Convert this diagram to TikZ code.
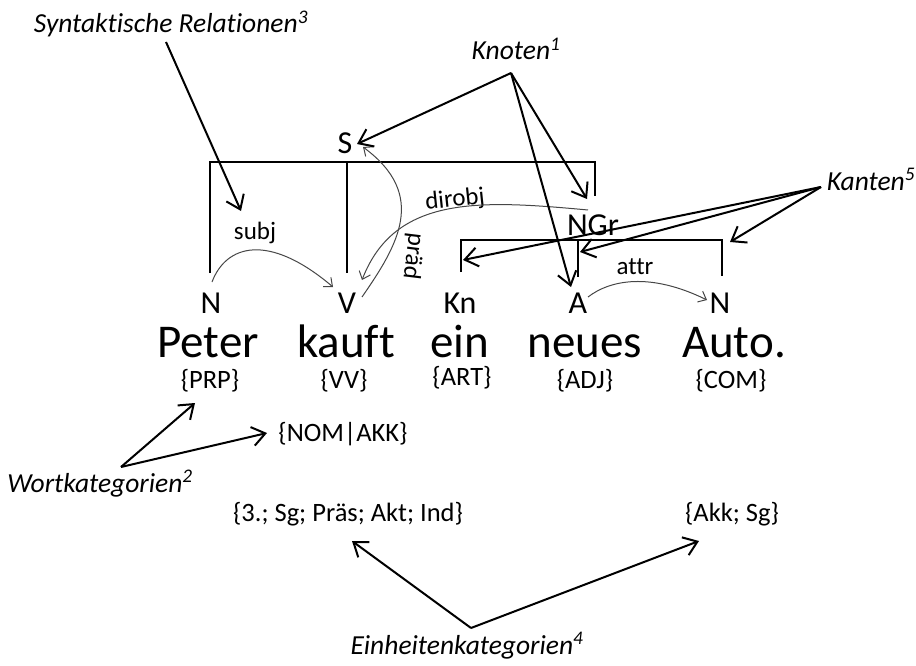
\documentclass[tikz,border=0pt]{standalone}
\usepackage{fontspec}
\setmainfont{Carlito}[Ligatures=NoCommon]
\usetikzlibrary{arrows.meta}
\definecolor{curvecol}{RGB}{70,70,70}
\tikzset{
  lbl/.style={font=\fontsize{32}{38}\selectfont, inner sep=0pt, anchor=base},
  word/.style={font=\fontsize{47}{54}\selectfont, inner sep=0pt, anchor=base},
  cat/.style={font=\fontsize{26.5}{30}\selectfont, inner sep=0pt, anchor=base},
  rel/.style={font=\fontsize{25}{30}\selectfont, inner sep=0pt},
  note/.style={font=\itshape\fontsize{27.5}{32}\selectfont, inner sep=0pt, anchor=base},
  bracket/.style={line width=2pt},
  callout/.style={line width=2pt, -{Straight Barb[length=13pt,width=19pt,line width=2pt]}},
  depcurve/.style={line width=1pt, draw=curvecol, -{Straight Barb[length=7pt,width=12pt,line width=1pt]}},
}
\begin{document}
\begin{tikzpicture}[x=1pt,y=-1pt]
\useasboundingbox (0,0) rectangle (916,666);
% callout labels
\node[note] (synrel) at (171,33) {Syntaktische Relationen\textsuperscript{3}};
\node[note] (knoten) at (516,60) {Knoten\textsuperscript{1}};
\node[note] (kanten) at (871,190) {Kanten\textsuperscript{5}};
\node[note] (wortkat) at (100,492) {Wortkategorien\textsuperscript{2}};
\node[note] (einhkat) at (467,654) {Einheitenkategorien\textsuperscript{4}};
% tree labels
\node[lbl] (S) at (345,154) {S};
\node[lbl] (NGr) at (593,235) {NGr};
\node[lbl] (nN1) at (211,313) {N};
\node[lbl] (nV) at (347,313) {V};
\node[lbl] (nKn) at (460,313) {Kn};
\node[lbl] (nA) at (578,313) {A};
\node[lbl] (nN2) at (720,313) {N};
% words
\node[word] (wPeter) at (208,357) {Peter};
\node[word] (wkauft) at (346,357) {kauft};
\node[word] (wein) at (460,357) {ein};
\node[word] (wneues) at (585,357) {neues};
\node[word] (wAuto) at (734,357) {Auto.};
% categories
\node[cat] (cPRP) at (210,388) {\{PRP\}};
\node[cat] (cVV) at (344,388) {\{VV\}};
\node[cat] (cART) at (462,385) {\{ART\}};
\node[cat] (cADJ) at (585,388) {\{ADJ\}};
\node[cat] (cCOM) at (731,388) {\{COM\}};
\node[cat] (cNOM) at (343,441) {\{NOM|AKK\}};
\node[cat] (cVerb) at (348,521) {\{3.; Sg; Präs; Akt; Ind\}};
\node[cat] (cAkk) at (732,521) {\{Akk; Sg\}};
% relation labels
\node[rel] (subj) at (255,233) {subj};
\node[rel] (attr) at (635,267) {attr};
\node[rel, rotate=6] (dirobj) at (455,200) {dirobj};
\node[rel, rotate=-97] (praed) at (413,256) {präd};
% bracket coordinates
\coordinate (sL) at (210,273); \coordinate (sLt) at (210,162);
\coordinate (sM) at (347,273); \coordinate (sMt) at (347,162);
\coordinate (sR) at (595,196); \coordinate (sRt) at (595,162);
\coordinate (gL) at (461,272); \coordinate (gLt) at (461,240);
\coordinate (gM) at (578,277); \coordinate (gMt) at (578,240);
\coordinate (gR) at (722,276); \coordinate (gRt) at (722,240);
\draw[bracket] (sL) -- (sLt) -- (sRt) -- (sR);
\draw[bracket] (sMt) -- (sM);
\draw[bracket] (gL) -- (gLt) -- (gRt) -- (gR);
\draw[bracket] (gMt) -- (gM);
% dependency curves
\coordinate (subjS) at (212,282); \coordinate (subjE) at (333,287);
\draw[depcurve] (subjS) .. controls (226,245) and (268,232) .. (subjE);
\coordinate (attrS) at (588,297); \coordinate (attrE) at (707,300);
\draw[depcurve] (attrS) .. controls (610,280) and (650,272) .. (attrE);
\coordinate (praedS) at (362,297); \coordinate (praedE) at (363,147);
\draw[depcurve] (praedS) .. controls (398,245) and (428,195) .. (praedE);
\coordinate (dirS) at (588,210); \coordinate (dirE) at (362,280);
\draw[depcurve] (dirS) .. controls (480,200) and (395,195) .. (dirE);
% callout arrows
\coordinate (synS) at (166,42); \coordinate (synT) at (241,211);
\draw[callout] (synS) -- (synT);
\coordinate (kv) at (511,73);
\coordinate (kS) at (357,144); \coordinate (kNGr) at (587,199); \coordinate (kA) at (571,287);
\draw[callout] (kv) -- (kS);
\draw[callout] (kv) -- (kNGr);
\draw[callout] (kv) -- (kA);
\coordinate (kav) at (821,187);
\coordinate (kaL) at (463,260); \coordinate (kaM) at (580,252); \coordinate (kaR) at (730,242);
\draw[callout] (kav) -- (kaL);
\draw[callout] (kav) -- (kaM);
\draw[callout] (kav) -- (kaR);
\coordinate (wv) at (121,467);
\coordinate (wPRP) at (195,403); \coordinate (wNOM) at (267,433);
\draw[callout] (wv) -- (wPRP);
\draw[callout] (wv) -- (wNOM);
\coordinate (ev) at (471,628);
\coordinate (eVerb) at (352,541); \coordinate (eAkk) at (699,541);
\draw[callout] (ev) -- (eVerb);
\draw[callout] (ev) -- (eAkk);
\end{tikzpicture}
\end{document}
